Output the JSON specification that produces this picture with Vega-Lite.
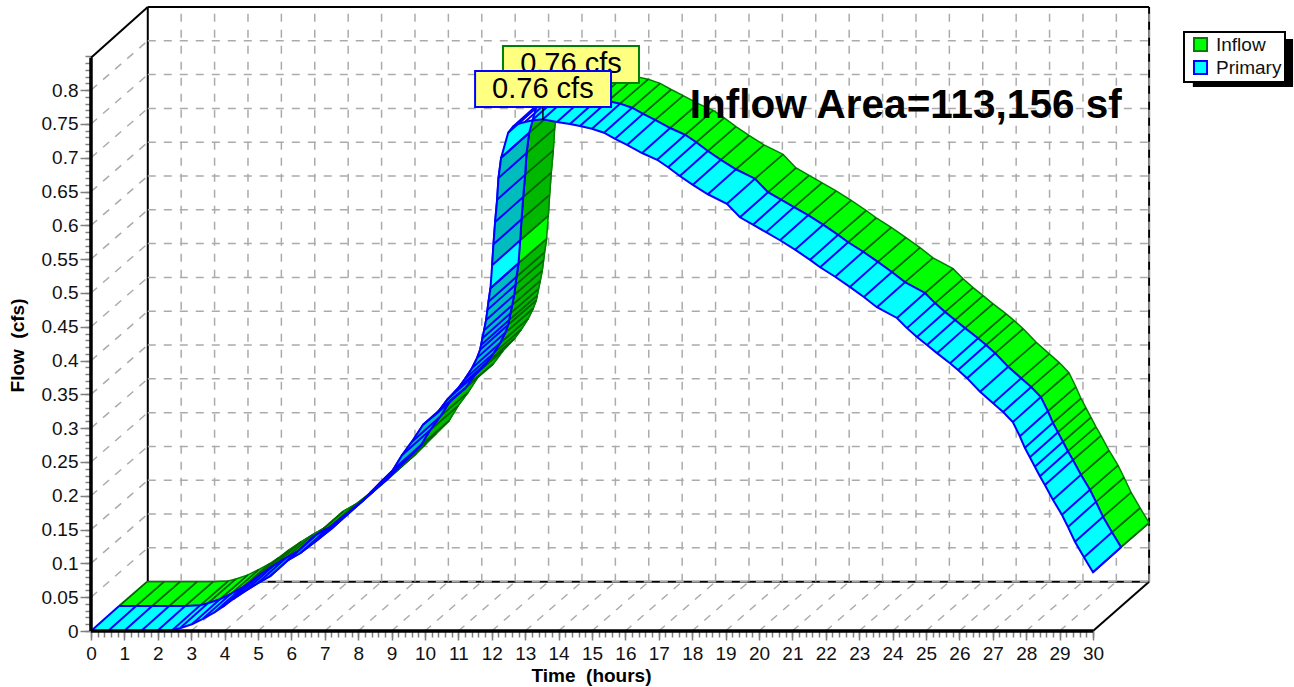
{
"$schema":"https://vega.github.io/schema/vega-lite/v6.json",
"autosize":"none","width":1059,"height":624,
"padding":{"left":91,"top":7,"right":144,"bottom":56},
"background":"white",
"config":{"view":{"stroke":null},"font":"Liberation Sans","legend":{"strokeWidth":2}},
"datasets":{
"curve":[
{"i":1,"r":1102,"t0":0,"q0":0,"t1":0.84,"q1":0.037,"t2":1.68,"q2":0.073},
{"i":2,"r":1101,"t0":0.51,"q0":0,"t1":1.35,"q1":0.037,"t2":2.19,"q2":0.073},
{"i":3,"r":1100,"t0":0.99,"q0":0,"t1":1.83,"q1":0.037,"t2":2.67,"q2":0.073},
{"i":4,"r":1099,"t0":1.5,"q0":0,"t1":2.34,"q1":0.037,"t2":3.18,"q2":0.073},
{"i":5,"r":1098,"t0":1.98,"q0":0,"t1":2.82,"q1":0.037,"t2":3.66,"q2":0.073},
{"i":6,"r":1097,"t0":2.43,"q0":0.001,"t1":3.27,"q1":0.038,"t2":4.11,"q2":0.074},
{"i":7,"r":1096,"t0":2.66,"q0":0.004,"t1":3.5,"q1":0.041,"t2":4.34,"q2":0.077},
{"i":8,"r":1095,"t0":3.02,"q0":0.01,"t1":3.86,"q1":0.047,"t2":4.7,"q2":0.083},
{"i":9,"r":1094,"t0":3.35,"q0":0.018,"t1":4.19,"q1":0.055,"t2":5.03,"q2":0.091},
{"i":10,"r":1093,"t0":3.68,"q0":0.027,"t1":4.52,"q1":0.064,"t2":5.36,"q2":0.1},
{"i":11,"r":1092,"t0":3.95,"q0":0.036,"t1":4.79,"q1":0.073,"t2":5.63,"q2":0.109},
{"i":12,"r":1091,"t0":4.25,"q0":0.047,"t1":5.09,"q1":0.084,"t2":5.93,"q2":0.12},
{"i":13,"r":1090,"t0":4.61,"q0":0.059,"t1":5.45,"q1":0.096,"t2":6.29,"q2":0.132},
{"i":14,"r":1089,"t0":4.97,"q0":0.07,"t1":5.81,"q1":0.107,"t2":6.65,"q2":0.143},
{"i":15,"r":1088,"t0":5.36,"q0":0.081,"t1":6.2,"q1":0.118,"t2":7.04,"q2":0.154},
{"i":16,"r":1087,"t0":5.87,"q0":0.104,"t1":6.71,"q1":0.141,"t2":7.55,"q2":0.177},
{"i":17,"r":1086,"t0":6.26,"q0":0.115,"t1":7.1,"q1":0.152,"t2":7.94,"q2":0.188},
{"i":18,"r":1085,"t0":6.71,"q0":0.132,"t1":7.55,"q1":0.169,"t2":8.39,"q2":0.205},
{"i":19,"r":1084,"t0":7.19,"q0":0.151,"t1":8.03,"q1":0.188,"t2":8.87,"q2":0.224},
{"i":20,"r":1083,"t0":7.66,"q0":0.172,"t1":8.5,"q1":0.209,"t2":9.34,"q2":0.245},
{"i":21,"r":1082,"t0":8.05,"q0":0.189,"t1":8.89,"q1":0.226,"t2":9.73,"q2":0.262},
{"i":22,"r":1081,"t0":8.35,"q0":0.204,"t1":9.19,"q1":0.241,"t2":10.03,"q2":0.277},
{"i":23,"r":1080,"t0":8.65,"q0":0.219,"t1":9.49,"q1":0.256,"t2":10.33,"q2":0.292},
{"i":24,"r":1079,"t0":9.04,"q0":0.238,"t1":9.88,"q1":0.275,"t2":10.72,"q2":0.311},
{"i":25,"r":1078,"t0":9.31,"q0":0.26,"t1":10.15,"q1":0.297,"t2":10.99,"q2":0.333},
{"i":26,"r":1077,"t0":9.61,"q0":0.28,"t1":10.45,"q1":0.317,"t2":11.29,"q2":0.353},
{"i":27,"r":1076,"t0":9.94,"q0":0.305,"t1":10.78,"q1":0.342,"t2":11.62,"q2":0.378},
{"i":28,"r":1075,"t0":10.36,"q0":0.322,"t1":11.2,"q1":0.359,"t2":12.04,"q2":0.395},
{"i":29,"r":1074,"t0":10.66,"q0":0.342,"t1":11.5,"q1":0.379,"t2":12.34,"q2":0.415},
{"i":30,"r":1073,"t0":10.99,"q0":0.359,"t1":11.83,"q1":0.396,"t2":12.67,"q2":0.432},
{"i":31,"r":1072,"t0":11.2,"q0":0.373,"t1":12.04,"q1":0.41,"t2":12.88,"q2":0.446},
{"i":32,"r":1071,"t0":11.41,"q0":0.389,"t1":12.25,"q1":0.426,"t2":13.09,"q2":0.462},
{"i":33,"r":1070,"t0":11.56,"q0":0.404,"t1":12.4,"q1":0.441,"t2":13.24,"q2":0.477},
{"i":34,"r":1069,"t0":11.65,"q0":0.416,"t1":12.49,"q1":0.453,"t2":13.33,"q2":0.489},
{"i":35,"r":1068,"t0":11.68,"q0":0.423,"t1":12.52,"q1":0.46,"t2":13.36,"q2":0.496},
{"i":36,"r":1067,"t0":11.72,"q0":0.433,"t1":12.56,"q1":0.47,"t2":13.4,"q2":0.506},
{"i":37,"r":1066,"t0":11.77,"q0":0.445,"t1":12.61,"q1":0.482,"t2":13.45,"q2":0.518},
{"i":38,"r":1065,"t0":11.83,"q0":0.46,"t1":12.67,"q1":0.497,"t2":13.51,"q2":0.533},
{"i":39,"r":1064,"t0":11.87,"q0":0.475,"t1":12.71,"q1":0.512,"t2":13.55,"q2":0.548},
{"i":40,"r":1063,"t0":11.9,"q0":0.487,"t1":12.74,"q1":0.524,"t2":13.58,"q2":0.56},
{"i":41,"r":1062,"t0":11.96,"q0":0.507,"t1":12.8,"q1":0.544,"t2":13.64,"q2":0.58},
{"i":42,"r":1061,"t0":12.01,"q0":0.541,"t1":12.85,"q1":0.578,"t2":13.69,"q2":0.614},
{"i":43,"r":1060,"t0":12.05,"q0":0.572,"t1":12.89,"q1":0.609,"t2":13.73,"q2":0.645},
{"i":44,"r":1059,"t0":12.1,"q0":0.605,"t1":12.94,"q1":0.642,"t2":13.78,"q2":0.678},
{"i":45,"r":1058,"t0":12.16,"q0":0.638,"t1":13,"q1":0.675,"t2":13.84,"q2":0.711},
{"i":46,"r":1057,"t0":12.2,"q0":0.67,"t1":13.04,"q1":0.707,"t2":13.88,"q2":0.743},
{"i":47,"r":1056,"t0":12.28,"q0":0.7,"t1":13.12,"q1":0.737,"t2":13.96,"q2":0.773},
{"i":48,"r":1055,"t0":12.49,"q0":0.737,"t1":13.33,"q1":0.774,"t2":14.17,"q2":0.81},
{"i":49,"r":1054,"t0":12.63,"q0":0.746,"t1":13.47,"q1":0.783,"t2":14.31,"q2":0.819},
{"i":50,"r":1053,"t0":12.78,"q0":0.75,"t1":13.62,"q1":0.787,"t2":14.46,"q2":0.823},
{"i":51,"r":1052,"t0":12.99,"q0":0.753,"t1":13.83,"q1":0.79,"t2":14.67,"q2":0.826},
{"i":52,"r":1051,"t0":13.2,"q0":0.755,"t1":14.04,"q1":0.792,"t2":14.88,"q2":0.828},
{"i":53,"r":1050,"t0":13.53,"q0":0.757,"t1":14.37,"q1":0.794,"t2":15.21,"q2":0.83},
{"i":54,"r":1049,"t0":13.95,"q0":0.753,"t1":14.79,"q1":0.79,"t2":15.63,"q2":0.826},
{"i":55,"r":1048,"t0":14.34,"q0":0.75,"t1":15.18,"q1":0.787,"t2":16.02,"q2":0.823},
{"i":56,"r":1047,"t0":14.64,"q0":0.747,"t1":15.48,"q1":0.784,"t2":16.32,"q2":0.82},
{"i":57,"r":1046,"t0":15,"q0":0.743,"t1":15.84,"q1":0.78,"t2":16.68,"q2":0.816},
{"i":58,"r":1045,"t0":15.36,"q0":0.737,"t1":16.2,"q1":0.774,"t2":17.04,"q2":0.81},
{"i":59,"r":1044,"t0":15.69,"q0":0.728,"t1":16.53,"q1":0.765,"t2":17.37,"q2":0.801},
{"i":60,"r":1043,"t0":16.05,"q0":0.719,"t1":16.89,"q1":0.756,"t2":17.73,"q2":0.792},
{"i":61,"r":1042,"t0":16.5,"q0":0.707,"t1":17.34,"q1":0.744,"t2":18.18,"q2":0.78},
{"i":62,"r":1041,"t0":16.95,"q0":0.697,"t1":17.79,"q1":0.734,"t2":18.63,"q2":0.77},
{"i":63,"r":1040,"t0":17.28,"q0":0.686,"t1":18.12,"q1":0.723,"t2":18.96,"q2":0.759},
{"i":64,"r":1039,"t0":17.63,"q0":0.673,"t1":18.47,"q1":0.71,"t2":19.31,"q2":0.746},
{"i":65,"r":1038,"t0":18.02,"q0":0.66,"t1":18.86,"q1":0.697,"t2":19.7,"q2":0.733},
{"i":66,"r":1037,"t0":18.47,"q0":0.646,"t1":19.31,"q1":0.683,"t2":20.15,"q2":0.719},
{"i":67,"r":1036,"t0":19.04,"q0":0.632,"t1":19.88,"q1":0.669,"t2":20.72,"q2":0.705},
{"i":68,"r":1035,"t0":19.43,"q0":0.612,"t1":20.27,"q1":0.649,"t2":21.11,"q2":0.685},
{"i":69,"r":1034,"t0":19.82,"q0":0.601,"t1":20.66,"q1":0.638,"t2":21.5,"q2":0.674},
{"i":70,"r":1033,"t0":20.21,"q0":0.59,"t1":21.05,"q1":0.627,"t2":21.89,"q2":0.663},
{"i":71,"r":1032,"t0":20.63,"q0":0.578,"t1":21.47,"q1":0.615,"t2":22.31,"q2":0.651},
{"i":72,"r":1031,"t0":21.08,"q0":0.564,"t1":21.92,"q1":0.601,"t2":22.76,"q2":0.637},
{"i":73,"r":1030,"t0":21.53,"q0":0.549,"t1":22.37,"q1":0.586,"t2":23.21,"q2":0.622},
{"i":74,"r":1029,"t0":21.83,"q0":0.538,"t1":22.67,"q1":0.575,"t2":23.51,"q2":0.611},
{"i":75,"r":1028,"t0":22.28,"q0":0.524,"t1":23.12,"q1":0.561,"t2":23.96,"q2":0.597},
{"i":76,"r":1027,"t0":22.72,"q0":0.509,"t1":23.56,"q1":0.546,"t2":24.4,"q2":0.582},
{"i":77,"r":1026,"t0":23.14,"q0":0.494,"t1":23.98,"q1":0.531,"t2":24.82,"q2":0.567},
{"i":78,"r":1025,"t0":23.53,"q0":0.479,"t1":24.37,"q1":0.516,"t2":25.21,"q2":0.552},
{"i":79,"r":1024,"t0":24.13,"q0":0.463,"t1":24.97,"q1":0.5,"t2":25.81,"q2":0.536},
{"i":80,"r":1023,"t0":24.43,"q0":0.448,"t1":25.27,"q1":0.485,"t2":26.11,"q2":0.521},
{"i":81,"r":1022,"t0":24.73,"q0":0.435,"t1":25.57,"q1":0.472,"t2":26.41,"q2":0.508},
{"i":82,"r":1021,"t0":25.03,"q0":0.423,"t1":25.87,"q1":0.46,"t2":26.71,"q2":0.496},
{"i":83,"r":1020,"t0":25.33,"q0":0.411,"t1":26.17,"q1":0.448,"t2":27.01,"q2":0.484},
{"i":84,"r":1019,"t0":25.72,"q0":0.396,"t1":26.56,"q1":0.433,"t2":27.4,"q2":0.469},
{"i":85,"r":1018,"t0":25.96,"q0":0.386,"t1":26.8,"q1":0.423,"t2":27.64,"q2":0.459},
{"i":86,"r":1017,"t0":26.23,"q0":0.374,"t1":27.07,"q1":0.411,"t2":27.91,"q2":0.447},
{"i":87,"r":1016,"t0":26.62,"q0":0.354,"t1":27.46,"q1":0.391,"t2":28.3,"q2":0.427},
{"i":88,"r":1015,"t0":27.01,"q0":0.337,"t1":27.85,"q1":0.374,"t2":28.69,"q2":0.41},
{"i":89,"r":1014,"t0":27.31,"q0":0.324,"t1":28.15,"q1":0.361,"t2":28.99,"q2":0.397},
{"i":90,"r":1013,"t0":27.6,"q0":0.309,"t1":28.44,"q1":0.346,"t2":29.28,"q2":0.382},
{"i":91,"r":1012,"t0":27.81,"q0":0.288,"t1":28.65,"q1":0.325,"t2":29.49,"q2":0.361},
{"i":92,"r":1011,"t0":27.96,"q0":0.271,"t1":28.8,"q1":0.308,"t2":29.64,"q2":0.344},
{"i":93,"r":1010,"t0":28.11,"q0":0.257,"t1":28.95,"q1":0.294,"t2":29.79,"q2":0.33},
{"i":94,"r":1009,"t0":28.26,"q0":0.243,"t1":29.1,"q1":0.28,"t2":29.94,"q2":0.316},
{"i":95,"r":1008,"t0":28.41,"q0":0.229,"t1":29.25,"q1":0.266,"t2":30.09,"q2":0.302},
{"i":96,"r":1007,"t0":28.56,"q0":0.216,"t1":29.4,"q1":0.253,"t2":30.24,"q2":0.289},
{"i":97,"r":1006,"t0":28.8,"q0":0.194,"t1":29.64,"q1":0.231,"t2":30.48,"q2":0.267},
{"i":98,"r":1005,"t0":29.07,"q0":0.172,"t1":29.91,"q1":0.209,"t2":30.75,"q2":0.245},
{"i":99,"r":1004,"t0":29.25,"q0":0.154,"t1":30.09,"q1":0.191,"t2":30.93,"q2":0.227},
{"i":100,"r":1003,"t0":29.46,"q0":0.132,"t1":30.3,"q1":0.169,"t2":31.14,"q2":0.205},
{"i":101,"r":1002,"t0":29.73,"q0":0.109,"t1":30.57,"q1":0.146,"t2":31.41,"q2":0.182},
{"i":102,"r":1001,"t0":30,"q0":0.087,"t1":30.84,"q1":0.124,"t2":31.68,"q2":0.16}
],
"grid":[
{"time":1,"flow":0,"time2":2.7,"flow2":0.073},{"time":2,"flow":0,"time2":3.7,"flow2":0.073},{"time":3,"flow":0,"time2":4.7,"flow2":0.073},{"time":4,"flow":0,"time2":5.7,"flow2":0.073},{"time":5,"flow":0,"time2":6.7,"flow2":0.073},{"time":6,"flow":0,"time2":7.7,"flow2":0.073},{"time":7,"flow":0,"time2":8.7,"flow2":0.073},{"time":8,"flow":0,"time2":9.7,"flow2":0.073},{"time":9,"flow":0,"time2":10.7,"flow2":0.073},{"time":10,"flow":0,"time2":11.7,"flow2":0.073},{"time":11,"flow":0,"time2":12.7,"flow2":0.073},{"time":12,"flow":0,"time2":13.7,"flow2":0.073},{"time":13,"flow":0,"time2":14.7,"flow2":0.073},{"time":14,"flow":0,"time2":15.7,"flow2":0.073},{"time":15,"flow":0,"time2":16.7,"flow2":0.073},{"time":16,"flow":0,"time2":17.7,"flow2":0.073},{"time":17,"flow":0,"time2":18.7,"flow2":0.073},{"time":18,"flow":0,"time2":19.7,"flow2":0.073},{"time":19,"flow":0,"time2":20.7,"flow2":0.073},{"time":20,"flow":0,"time2":21.7,"flow2":0.073},{"time":21,"flow":0,"time2":22.7,"flow2":0.073},{"time":22,"flow":0,"time2":23.7,"flow2":0.073},{"time":23,"flow":0,"time2":24.7,"flow2":0.073},{"time":24,"flow":0,"time2":25.7,"flow2":0.073},{"time":25,"flow":0,"time2":26.7,"flow2":0.073},{"time":26,"flow":0,"time2":27.7,"flow2":0.073},{"time":27,"flow":0,"time2":28.7,"flow2":0.073},{"time":28,"flow":0,"time2":29.7,"flow2":0.073},{"time":29,"flow":0,"time2":30.7,"flow2":0.073},
{"time":2.7,"flow":0.073,"time2":2.7,"flow2":0.923},{"time":3.7,"flow":0.073,"time2":3.7,"flow2":0.923},{"time":4.7,"flow":0.073,"time2":4.7,"flow2":0.923},{"time":5.7,"flow":0.073,"time2":5.7,"flow2":0.923},{"time":6.7,"flow":0.073,"time2":6.7,"flow2":0.923},{"time":7.7,"flow":0.073,"time2":7.7,"flow2":0.923},{"time":8.7,"flow":0.073,"time2":8.7,"flow2":0.923},{"time":9.7,"flow":0.073,"time2":9.7,"flow2":0.923},{"time":10.7,"flow":0.073,"time2":10.7,"flow2":0.923},{"time":11.7,"flow":0.073,"time2":11.7,"flow2":0.923},{"time":12.7,"flow":0.073,"time2":12.7,"flow2":0.923},{"time":13.7,"flow":0.073,"time2":13.7,"flow2":0.923},{"time":14.7,"flow":0.073,"time2":14.7,"flow2":0.923},{"time":15.7,"flow":0.073,"time2":15.7,"flow2":0.923},{"time":16.7,"flow":0.073,"time2":16.7,"flow2":0.923},{"time":17.7,"flow":0.073,"time2":17.7,"flow2":0.923},{"time":18.7,"flow":0.073,"time2":18.7,"flow2":0.923},{"time":19.7,"flow":0.073,"time2":19.7,"flow2":0.923},{"time":20.7,"flow":0.073,"time2":20.7,"flow2":0.923},{"time":21.7,"flow":0.073,"time2":21.7,"flow2":0.923},{"time":22.7,"flow":0.073,"time2":22.7,"flow2":0.923},{"time":23.7,"flow":0.073,"time2":23.7,"flow2":0.923},{"time":24.7,"flow":0.073,"time2":24.7,"flow2":0.923},{"time":25.7,"flow":0.073,"time2":25.7,"flow2":0.923},{"time":26.7,"flow":0.073,"time2":26.7,"flow2":0.923},{"time":27.7,"flow":0.073,"time2":27.7,"flow2":0.923},{"time":28.7,"flow":0.073,"time2":28.7,"flow2":0.923},{"time":29.7,"flow":0.073,"time2":29.7,"flow2":0.923},{"time":30.7,"flow":0.073,"time2":30.7,"flow2":0.923},{"time":31.68,"flow":0.073,"time2":31.68,"flow2":0.923},
{"time":1.7,"flow":0.073,"time2":31.68,"flow2":0.073},{"time":1.7,"flow":0.123,"time2":31.68,"flow2":0.123},{"time":1.7,"flow":0.173,"time2":31.68,"flow2":0.173},{"time":1.7,"flow":0.223,"time2":31.68,"flow2":0.223},{"time":1.7,"flow":0.273,"time2":31.68,"flow2":0.273},{"time":1.7,"flow":0.323,"time2":31.68,"flow2":0.323},{"time":1.7,"flow":0.373,"time2":31.68,"flow2":0.373},{"time":1.7,"flow":0.423,"time2":31.68,"flow2":0.423},{"time":1.7,"flow":0.473,"time2":31.68,"flow2":0.473},{"time":1.7,"flow":0.523,"time2":31.68,"flow2":0.523},{"time":1.7,"flow":0.573,"time2":31.68,"flow2":0.573},{"time":1.7,"flow":0.623,"time2":31.68,"flow2":0.623},{"time":1.7,"flow":0.673,"time2":31.68,"flow2":0.673},{"time":1.7,"flow":0.723,"time2":31.68,"flow2":0.723},{"time":1.7,"flow":0.773,"time2":31.68,"flow2":0.773},{"time":1.7,"flow":0.823,"time2":31.68,"flow2":0.823},{"time":1.7,"flow":0.873,"time2":31.68,"flow2":0.873},
{"time":0,"flow":0.05,"time2":1.7,"flow2":0.123},{"time":0,"flow":0.1,"time2":1.7,"flow2":0.173},{"time":0,"flow":0.15,"time2":1.7,"flow2":0.223},{"time":0,"flow":0.2,"time2":1.7,"flow2":0.273},{"time":0,"flow":0.25,"time2":1.7,"flow2":0.323},{"time":0,"flow":0.3,"time2":1.7,"flow2":0.373},{"time":0,"flow":0.35,"time2":1.7,"flow2":0.423},{"time":0,"flow":0.4,"time2":1.7,"flow2":0.473},{"time":0,"flow":0.45,"time2":1.7,"flow2":0.523},{"time":0,"flow":0.5,"time2":1.7,"flow2":0.573},{"time":0,"flow":0.55,"time2":1.7,"flow2":0.623},{"time":0,"flow":0.6,"time2":1.7,"flow2":0.673},{"time":0,"flow":0.65,"time2":1.7,"flow2":0.723},{"time":0,"flow":0.7,"time2":1.7,"flow2":0.773},{"time":0,"flow":0.75,"time2":1.7,"flow2":0.823},{"time":0,"flow":0.8,"time2":1.7,"flow2":0.873}
],
"frameThin":[
{"time":0,"flow":0.848,"time2":1.7,"flow2":0.923},
{"time":30,"flow":0,"time2":31.68,"flow2":0.073},
{"time":1.7,"flow":0.923,"time2":31.68,"flow2":0.923},
{"time":1.7,"flow":0.073,"time2":1.7,"flow2":0.923},
{"time":1.7,"flow":0.073,"time2":31.68,"flow2":0.073},
{"time":31.68,"flow":0.073,"time2":31.68,"flow2":0.923}
],
"frameThick":[
{"time":0,"flow":0,"time2":0,"flow2":0.848},
{"time":0,"flow":0,"time2":30,"flow2":0}
]
},
"encoding":{
"x":{"field":"time","type":"quantitative","scale":{"domain":[0,31.707],"nice":false},"axis":null},
"y":{"field":"flow","type":"quantitative","scale":{"domain":[0,0.923],"nice":false},"axis":null}
},
"layer":[
{"data":{"name":"frameThin"},"mark":{"type":"rule","color":"black","strokeWidth":2},
"encoding":{"x2":{"field":"time2"},"y2":{"field":"flow2"},
"x":{"field":"time","type":"quantitative","scale":{"domain":[0,31.707],"nice":false},
"axis":{"orient":"bottom","title":"Time\u00a0 (hours)","titleFont":"Liberation Sans","titleFontWeight":"bold","titleFontSize":19,"titleColor":"black","titleX":500,"titleY":44,"titleBaseline":"middle","domain":false,"grid":false,"values":[0,1,2,3,4,5,6,7,8,9,10,11,12,13,14,15,16,17,18,19,20,21,22,23,24,25,26,27,28,29,30],"format":"d","labelFont":"Liberation Sans","labelFontSize":19,"labelColor":"#111111","labelPadding":4,"labelOverlap":false,"labelBound":false,"labelFlush":false,"tickColor":"#808080","tickWidth":1.5,"tickSize":9}},
"y":{"field":"flow","type":"quantitative","scale":{"domain":[0,0.923],"nice":false},
"axis":{"orient":"left","title":"Flow\u00a0 (cfs)","titleFont":"Liberation Sans","titleFontWeight":"bold","titleFontSize":19,"titleColor":"black","titleX":-74,"titleY":338,"titleBaseline":"middle","domain":false,"grid":false,"values":[0,0.05,0.1,0.15,0.2,0.25,0.3,0.35,0.4,0.45,0.5,0.55,0.6,0.65,0.7,0.75,0.8],"format":".2~f","labelFont":"Liberation Sans","labelFontSize":19,"labelColor":"#111111","labelPadding":2,"labelOverlap":false,"labelBound":false,"labelFlush":false,"tickColor":"#808080","tickWidth":1.5,"tickSize":11}}
}},
{"data":{"name":"grid"},"mark":{"type":"rule","color":"#ababab","strokeWidth":1.5,"strokeDash":[8,8]},
"encoding":{"x2":{"field":"time2"},"y2":{"field":"flow2"},
"x":{"field":"time","type":"quantitative","scale":{"domain":[0,31.707],"nice":false},
"axis":{"orient":"bottom","title":null,"labels":false,"domain":false,"grid":false,"tickColor":"#808080","tickWidth":1.5,"tickSize":6,"values":[0,0.2,0.4,0.6,0.8,1,1.2,1.4,1.6,1.8,2,2.2,2.4,2.6,2.8,3,3.2,3.4,3.6,3.8,4,4.2,4.4,4.6,4.8,5,5.2,5.4,5.6,5.8,6,6.2,6.4,6.6,6.8,7,7.2,7.4,7.6,7.8,8,8.2,8.4,8.6,8.8,9,9.2,9.4,9.6,9.8,10,10.2,10.4,10.6,10.8,11,11.2,11.4,11.6,11.8,12,12.2,12.4,12.6,12.8,13,13.2,13.4,13.6,13.8,14,14.2,14.4,14.6,14.8,15,15.2,15.4,15.6,15.8,16,16.2,16.4,16.6,16.8,17,17.2,17.4,17.6,17.8,18,18.2,18.4,18.6,18.8,19,19.2,19.4,19.6,19.8,20,20.2,20.4,20.6,20.8,21,21.2,21.4,21.6,21.8,22,22.2,22.4,22.6,22.8,23,23.2,23.4,23.6,23.8,24,24.2,24.4,24.6,24.8,25,25.2,25.4,25.6,25.8,26,26.2,26.4,26.6,26.8,27,27.2,27.4,27.6,27.8,28,28.2,28.4,28.6,28.8,29,29.2,29.4,29.6,29.8,30]}},
"y":{"field":"flow","type":"quantitative","scale":{"domain":[0,0.923],"nice":false},
"axis":{"orient":"left","title":null,"labels":false,"domain":false,"grid":false,"tickColor":"#808080","tickWidth":1.5,"tickSize":6,"values":[0,0.01,0.02,0.03,0.04,0.05,0.06,0.07,0.08,0.09,0.1,0.11,0.12,0.13,0.14,0.15,0.16,0.17,0.18,0.19,0.2,0.21,0.22,0.23,0.24,0.25,0.26,0.27,0.28,0.29,0.3,0.31,0.32,0.33,0.34,0.35,0.36,0.37,0.38,0.39,0.4,0.41,0.42,0.43,0.44,0.45,0.46,0.47,0.48,0.49,0.5,0.51,0.52,0.53,0.54,0.55,0.56,0.57,0.58,0.59,0.6,0.61,0.62,0.63,0.64,0.65,0.66,0.67,0.68,0.69,0.7,0.71,0.72,0.73,0.74,0.75,0.76,0.77,0.78,0.79,0.8,0.81,0.82,0.83,0.84,0.85]}}
}},
{"data":{"values":[{"series":"Inflow","time":21.47,"flow":0.645},{"series":"Primary","time":20.63,"flow":0.608}]},
"mark":{"type":"square","size":1,"opacity":1,"strokeWidth":2,"filled":true},
"encoding":{
"fill":{"field":"series","type":"nominal","scale":{"domain":["Inflow","Primary"],"range":["#00ff00","#00ffff"]},
"legend":{"title":null,"orient":"none","legendX":1093,"legendY":25,"zindex":1,"fillColor":"white","strokeColor":"black","padding":3,"symbolType":"square","symbolSize":170,"symbolStrokeWidth":2,"symbolOffset":4,"labelFont":"Liberation Sans","labelFontSize":19,"labelColor":"#111111","labelOffset":6,"rowPadding":0,"symbolOpacity":1}},
"stroke":{"field":"series","type":"nominal","scale":{"domain":["Inflow","Primary"],"range":["#008000","#0000ff"]},"legend":{"title":null,"orient":"none","legendX":1093,"legendY":25}}}},
{"data":{"name":"curve"},
"transform":[{"fold":["t1","t2"],"as":["tk","time"]},{"fold":["q1","q2"],"as":["qk","flow"]},{"fold":["i","r"],"as":["ok","ord"]},{"filter":"(datum.tk=='t1'&&datum.qk=='q1'&&datum.ok=='i')||(datum.tk=='t2'&&datum.qk=='q2'&&datum.ok=='r')"}],
"mark":{"type":"line","fill":"#00ff00","stroke":"#008000","strokeWidth":1.5},
"encoding":{"order":{"field":"ord","type":"quantitative"}}},
{"data":{"name":"curve"},
"transform":[{"filter":"datum.i>=12&&datum.i<=41"},{"fold":["t1","t2"],"as":["tk","time"]},{"fold":["q1","q2"],"as":["qk","flow"]},{"fold":["i","r"],"as":["ok","ord"]},{"filter":"(datum.tk=='t1'&&datum.qk=='q1'&&datum.ok=='i')||(datum.tk=='t2'&&datum.qk=='q2'&&datum.ok=='r')"}],
"mark":{"type":"line","fill":"#00b800","stroke":"#008000","strokeWidth":1.5},
"encoding":{"order":{"field":"ord","type":"quantitative"}}},
{"data":{"name":"curve"},
"transform":[{"filter":"datum.i>=42&&datum.i<=53"},{"fold":["t1","t2"],"as":["tk","time"]},{"fold":["q1","q2"],"as":["qk","flow"]},{"fold":["i","r"],"as":["ok","ord"]},{"filter":"(datum.tk=='t1'&&datum.qk=='q1'&&datum.ok=='i')||(datum.tk=='t2'&&datum.qk=='q2'&&datum.ok=='r')"}],
"mark":{"type":"line","fill":"#00b800","stroke":"#008000","strokeWidth":1.5},
"encoding":{"order":{"field":"ord","type":"quantitative"}}},
{"data":{"name":"curve"},"mark":{"type":"rule","color":"#006400","strokeWidth":1.8},
"encoding":{"x":{"field":"t1","type":"quantitative","scale":{"domain":[0,31.707],"nice":false},"axis":null},"y":{"field":"q1","type":"quantitative","scale":{"domain":[0,0.923],"nice":false},"axis":null},"x2":{"field":"t2"},"y2":{"field":"q2"}}},
{"data":{"name":"curve"},
"transform":[{"fold":["t0","t1"],"as":["tk","time"]},{"fold":["q0","q1"],"as":["qk","flow"]},{"fold":["i","r"],"as":["ok","ord"]},{"filter":"(datum.tk=='t0'&&datum.qk=='q0'&&datum.ok=='i')||(datum.tk=='t1'&&datum.qk=='q1'&&datum.ok=='r')"}],
"mark":{"type":"line","fill":"#00ffff","stroke":"#0000ff","strokeWidth":2},
"encoding":{"order":{"field":"ord","type":"quantitative"}}},
{"data":{"name":"curve"},
"transform":[{"filter":"datum.i>=12&&datum.i<=41"},{"fold":["t0","t1"],"as":["tk","time"]},{"fold":["q0","q1"],"as":["qk","flow"]},{"fold":["i","r"],"as":["ok","ord"]},{"filter":"(datum.tk=='t0'&&datum.qk=='q0'&&datum.ok=='i')||(datum.tk=='t1'&&datum.qk=='q1'&&datum.ok=='r')"}],
"mark":{"type":"line","fill":"#00bcbc","stroke":"#0000ff","strokeWidth":2},
"encoding":{"order":{"field":"ord","type":"quantitative"}}},
{"data":{"name":"curve"},
"transform":[{"filter":"datum.i>=42&&datum.i<=47"},{"fold":["t0","t1"],"as":["tk","time"]},{"fold":["q0","q1"],"as":["qk","flow"]},{"fold":["i","r"],"as":["ok","ord"]},{"filter":"(datum.tk=='t0'&&datum.qk=='q0'&&datum.ok=='i')||(datum.tk=='t1'&&datum.qk=='q1'&&datum.ok=='r')"}],
"mark":{"type":"line","fill":"#00bcbc","stroke":"#0000ff","strokeWidth":2},
"encoding":{"order":{"field":"ord","type":"quantitative"}}},
{"data":{"name":"curve"},"mark":{"type":"rule","color":"#0000ff","strokeWidth":2},
"encoding":{"x":{"field":"t0","type":"quantitative","scale":{"domain":[0,31.707],"nice":false},"axis":null},"y":{"field":"q0","type":"quantitative","scale":{"domain":[0,0.923],"nice":false},"axis":null},"x2":{"field":"t1"},"y2":{"field":"q1"}}},
{"data":{"name":"frameThick"},"mark":{"type":"rule","color":"black","strokeWidth":3.5},"encoding":{"x2":{"field":"time2"},"y2":{"field":"flow2"}}},
{"data":{"values":[{"time":12.335,"time2":16.407,"flow":0.8654,"flow2":0.8107}]},"mark":{"type":"rect","fill":"#ffff80","stroke":"#008000","strokeWidth":2},"encoding":{"x2":{"field":"time2"},"y2":{"field":"flow2"}}},
{"data":{"values":[{"time":14.37,"flow":0.838,"label":"0.76 cfs"}]},"mark":{"type":"text","font":"Liberation Sans","fontSize":29,"color":"black","baseline":"middle","align":"center"},"encoding":{"text":{"field":"label"}}},
{"data":{"values":[{"time":13.53,"time2":13.53,"flow":0.7751,"flow2":0.7559}]},"mark":{"type":"rule","color":"black","strokeWidth":1.5},"encoding":{"x2":{"field":"time2"},"y2":{"field":"flow2"}}},
{"data":{"values":[{"time":11.5,"time2":15.57,"flow":0.8284,"flow2":0.7751}]},"mark":{"type":"rect","fill":"#ffff80","stroke":"#0000ff","strokeWidth":2},"encoding":{"x2":{"field":"time2"},"y2":{"field":"flow2"}}},
{"data":{"values":[{"time":13.53,"flow":0.8018,"label":"0.76 cfs"}]},"mark":{"type":"text","font":"Liberation Sans","fontSize":29,"color":"black","baseline":"middle","align":"center"},"encoding":{"text":{"field":"label"}}},
{"data":{"values":[{"time":17.93,"flow":0.759,"label":"Inflow Area=113,156 sf"}]},"mark":{"type":"text","font":"Liberation Sans","fontSize":40.5,"fontWeight":"bold","color":"black","baseline":"alphabetic","align":"left"},"encoding":{"text":{"field":"label"}}},
{"data":{"values":[{"time":32.99,"time2":35.99,"flow":0.8757,"flow2":0.8047}]},"mark":{"type":"rect","fill":"black"},"encoding":{"x2":{"field":"time2"},"y2":{"field":"flow2"}}}
],
"resolve":{"axis":{"x":"independent","y":"independent"}}
}
